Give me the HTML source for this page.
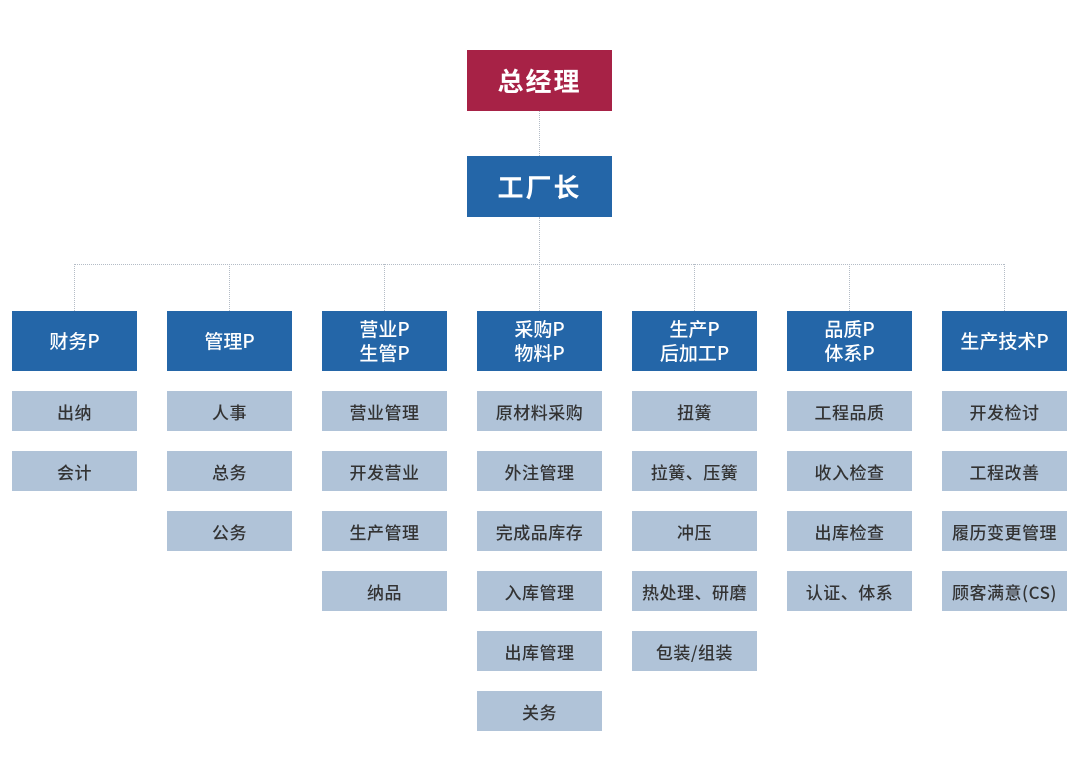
<!DOCTYPE html>
<html><head><meta charset="utf-8"><style>
body{margin:0;width:1080px;height:777px;background:#fff;position:relative;overflow:hidden;font-family:"Noto Sans CJK SC","Liberation Sans",sans-serif}
.b{position:absolute;display:flex;align-items:center;justify-content:center;text-align:center}
.top{left:467px;width:145px;height:61px;color:#fff;font-size:26px;letter-spacing:2px;font-weight:bold}
.d{width:125px;top:311px;height:60px;background:#2466a8;color:#fff;font-size:19px;line-height:24px;font-weight:500}
.s{width:125px;height:40px;background:#b0c3d8;color:#333;font-size:17px;letter-spacing:0.5px;font-weight:500}
.v{position:absolute;width:0;border-left:1px dotted #b4bcc6}
.h{position:absolute;height:0;border-top:1px dotted #b4bcc6}
</style></head><body>
<div class="v" style="left:539px;top:111px;height:45px"></div>
<div class="v" style="left:539px;top:217px;height:94px"></div>
<div class="h" style="left:74px;top:264px;width:930px"></div>
<div class="v" style="left:74px;top:264px;height:47px"></div>
<div class="v" style="left:229px;top:264px;height:47px"></div>
<div class="v" style="left:384px;top:264px;height:47px"></div>
<div class="v" style="left:694px;top:264px;height:47px"></div>
<div class="v" style="left:849px;top:264px;height:47px"></div>
<div class="v" style="left:1004px;top:264px;height:47px"></div>
<div class="b top" style="top:50px;background:#a72246">总经理</div>
<div class="b top" style="top:156px;background:#2466a8">工厂长</div>

<div class="b d" style="left:12px">财务P</div>
<div class="b d" style="left:167px">管理P</div>
<div class="b d" style="left:322px">营业P<br>生管P</div>
<div class="b d" style="left:477px">采购P<br>物料P</div>
<div class="b d" style="left:632px">生产P<br>后加工P</div>
<div class="b d" style="left:787px">品质P<br>体系P</div>
<div class="b d" style="left:942px">生产技术P</div>

<div class="b s" style="left:12px;top:391px">出纳</div>
<div class="b s" style="left:12px;top:451px">会计</div>

<div class="b s" style="left:167px;top:391px">人事</div>
<div class="b s" style="left:167px;top:451px">总务</div>
<div class="b s" style="left:167px;top:511px">公务</div>

<div class="b s" style="left:322px;top:391px">营业管理</div>
<div class="b s" style="left:322px;top:451px">开发营业</div>
<div class="b s" style="left:322px;top:511px">生产管理</div>
<div class="b s" style="left:322px;top:571px">纳品</div>

<div class="b s" style="left:477px;top:391px">原材料采购</div>
<div class="b s" style="left:477px;top:451px">外注管理</div>
<div class="b s" style="left:477px;top:511px">完成品库存</div>
<div class="b s" style="left:477px;top:571px">入库管理</div>
<div class="b s" style="left:477px;top:631px">出库管理</div>
<div class="b s" style="left:477px;top:691px">关务</div>

<div class="b s" style="left:632px;top:391px">扭簧</div>
<div class="b s" style="left:632px;top:451px">拉簧、压簧</div>
<div class="b s" style="left:632px;top:511px">冲压</div>
<div class="b s" style="left:632px;top:571px">热处理、研磨</div>
<div class="b s" style="left:632px;top:631px">包装/组装</div>

<div class="b s" style="left:787px;top:391px">工程品质</div>
<div class="b s" style="left:787px;top:451px">收入检查</div>
<div class="b s" style="left:787px;top:511px">出库检查</div>
<div class="b s" style="left:787px;top:571px">认证、体系</div>

<div class="b s" style="left:942px;top:391px">开发检讨</div>
<div class="b s" style="left:942px;top:451px">工程改善</div>
<div class="b s" style="left:942px;top:511px">履历变更管理</div>
<div class="b s" style="left:942px;top:571px">顾客满意(CS)</div>
</body></html>
